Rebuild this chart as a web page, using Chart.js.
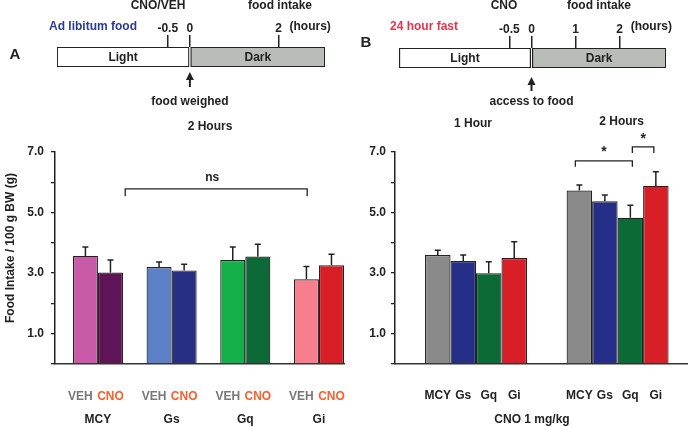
<!DOCTYPE html>
<html lang="en">
<head>
<meta charset="UTF-8">
<title>Food intake after CNO</title>
<script src="https://cdn.jsdelivr.net/npm/chart.js"></script>
<style>
  body { margin: 0; background: #fff; }
  #wrap { position: relative; width: 688px; height: 427px; overflow: hidden; }
  canvas { position: absolute; }
</style>
</head>
<body>
<div id="wrap">
  <canvas id="timeA" width="344" height="112" style="left:0;top:0"></canvas>
  <canvas id="timeB" width="344" height="112" style="left:344px;top:0"></canvas>
  <canvas id="barsB" width="344" height="317" style="left:344px;top:110px"></canvas>
  <canvas id="barsA" width="352" height="317" style="left:0;top:110px"></canvas>
</div>
<script>
// A: ad libitum fed, 2 h intake, VEH vs CNO
const groupsA = ['MCY', 'Gs', 'Gq', 'Gi'];
const vehA = [3.57, 3.20, 3.43, 2.80];
const vehErrA = [0.29, 0.17, 0.43, 0.42];
const cnoA = [3.02, 3.09, 3.55, 3.26];
const cnoErrA = [0.41, 0.20, 0.40, 0.36];

// B: 24 h fast, CNO 1 mg/kg, 1 h and 2 h intake
const timesB = ['1 Hour', '2 Hours'];
const strainsB = ['MCY', 'Gs', 'Gq', 'Gi'];
const mcyB = [3.60, 5.73];
const mcyErrB = [0.16, 0.18];
const gsB = [3.40, 5.37];
const gsErrB = [0.20, 0.21];
const gqB = [3.00, 4.83];
const gqErrB = [0.38, 0.41];
const giB = [3.50, 5.88];
const giErrB = [0.54, 0.47];

// y ticks
const yTicks = [1, 3, 5, 7];

// timelines (hours)
const ticksTimeA = [-0.5, 0, 2];
const ticksTimeB = [-0.5, 0, 1, 2];
const lightSpan = [-3, 0];
const darkSpan = [0, 3.05];

Chart.defaults.font.family = '"Liberation Sans", Arial, Helvetica, sans-serif';
Chart.defaults.font.weight = 'bold';
Chart.defaults.font.size = 12;
Chart.defaults.color = '#222';

const INK = '#222';
const BOLD = 'bold 12px "Liberation Sans", Arial, sans-serif';

function text(ctx, str, x, y, color, align, font) {
  ctx.fillStyle = color || INK;
  ctx.font = font || BOLD;
  ctx.textAlign = align || 'center';
  ctx.textBaseline = 'middle';
  ctx.fillText(str, x, y);
}

function arrowUp(ctx, x, tip, bottom) {
  ctx.strokeStyle = INK;
  ctx.fillStyle = INK;
  ctx.lineWidth = 2;
  ctx.beginPath();
  ctx.moveTo(x, bottom);
  ctx.lineTo(x, tip + 6);
  ctx.stroke();
  ctx.beginPath();
  ctx.moveTo(x, tip);
  ctx.lineTo(x - 4, tip + 8);
  ctx.lineTo(x + 4, tip + 8);
  ctx.closePath();
  ctx.fill();
}

function timeline(id, ticks, min, max, pad, notes) {
  return new Chart(document.getElementById(id), {
    type: 'bar',
    data: {
      labels: ['day'],
      datasets: [
        { label: 'Light', data: [lightSpan], backgroundColor: '#ffffff' },
        { label: 'Dark', data: [darkSpan], backgroundColor: '#b9bdb8' }
      ]
    },
    options: {
      indexAxis: 'y',
      responsive: false,
      animation: false,
      layout: { padding: pad },
      plugins: { legend: { display: false }, tooltip: { enabled: false } },
      datasets: {
        bar: { grouped: false, barPercentage: 1, categoryPercentage: 1,
               borderColor: INK, borderWidth: 1.3, borderSkipped: false }
      },
      scales: {
        x: {
          type: 'linear', position: 'top', min: min, max: max,
          afterBuildTicks: s => { s.ticks = ticks.map(v => ({ value: v })); },
          afterFit: s => { s.height = pad.axis; },
          border: { display: false },
          grid: { drawOnChartArea: false, drawTicks: true, tickLength: 12, color: INK, lineWidth: 1.5 },
          ticks: { padding: -1, maxRotation: 0, autoSkip: false, color: INK, callback: v => String(v) }
        },
        y: { display: false }
      }
    },
    plugins: [{
      id: 'timeNotes',
      afterDraw(chart) {
        const ctx = chart.ctx;
        const x = chart.scales.x;
        ctx.save();
        chart.data.datasets.forEach((ds, i) => {
          const bar = chart.getDatasetMeta(i).data[0];
          text(ctx, ds.label, (bar.x + bar.base) / 2, bar.y + 1);
        });
        const x2 = x.getPixelForValue(2);
        text(ctx, '(hours)', x2 + 11, 27, INK, 'left');
        notes(ctx, x);
        ctx.restore();
      }
    }]
  });
}

timeline('timeA', ticksTimeA, -3.0, 3.05, { left: 57, right: 19, top: 0, bottom: 45, axis: 47 }, (ctx, x) => {
  text(ctx, 'A', 15, 55, INK, 'center', 'bold 15px "Liberation Sans", Arial, sans-serif');
  text(ctx, 'Ad libitum food', 93, 27, '#2c3a90');
  text(ctx, 'CNO/VEH', 158, 6);
  text(ctx, 'food intake', 280, 6);
  const x0 = x.getPixelForValue(0);
  arrowUp(ctx, x0, 72, 87);
  text(ctx, 'food weighed', x0, 102);
});

timeline('timeB', ticksTimeB, -3.05, 3.05, { left: 53, right: 22, top: 0, bottom: 44, axis: 48 }, (ctx, x) => {
  text(ctx, 'B', 22, 43, INK, 'center', 'bold 15px "Liberation Sans", Arial, sans-serif');
  text(ctx, '24 hour fast', 80, 27, '#e0344f');
  text(ctx, 'CNO', 160, 6);
  text(ctx, 'food intake', 255, 6);
  const x0 = x.getPixelForValue(0);
  arrowUp(ctx, x0, 77, 91);
  text(ctx, 'access to food', x0, 102);
});

const errorBars = {
  id: 'errorBars',
  afterDatasetsDraw(chart) {
    const ctx = chart.ctx;
    const y = chart.scales.y;
    ctx.save();
    ctx.strokeStyle = INK;
    ctx.lineWidth = 1.5;
    chart.data.datasets.forEach((ds, di) => {
      chart.getDatasetMeta(di).data.forEach((bar, i) => {
        const top = y.getPixelForValue(ds.data[i].y + ds.err[i]);
        ctx.beginPath();
        ctx.moveTo(bar.x, bar.y);
        ctx.lineTo(bar.x, top);
        ctx.moveTo(bar.x - 3, top);
        ctx.lineTo(bar.x + 3, top);
        ctx.stroke();
      });
    });
    ctx.restore();
  }
};

function bracket(ctx, x1, x2, yTop, yFoot) {
  ctx.strokeStyle = INK;
  ctx.lineWidth = 1.3;
  ctx.beginPath();
  ctx.moveTo(x1, yFoot);
  ctx.lineTo(x1, yTop);
  ctx.lineTo(x2, yTop);
  ctx.lineTo(x2, yFoot);
  ctx.stroke();
}

function yScaleOpts(width, pad) {
  return {
    min: 0, max: 7,
    afterFit: s => { s.width = width; },
    afterBuildTicks: s => {
      const t = [];
      for (let v = 0; v <= 7; v++) t.push({ value: v });
      s.ticks = t;
    },
    ticks: { padding: pad, color: INK, callback: v => yTicks.includes(v) ? v.toFixed(1) : '' },
    grid: { drawOnChartArea: false, drawTicks: true, tickLength: 4, color: INK, lineWidth: 1.3 },
    border: { color: INK, width: 1.5 }
  };
}

// one x tick per group so the bar ruler uses the group spacing
function xScaleOpts(min, max, n) {
  return {
    type: 'linear', min: min, max: max, offset: false,
    afterBuildTicks: s => {
      const t = [];
      for (let v = 1; v <= n; v++) t.push({ value: v });
      s.ticks = t;
    },
    afterFit: s => { s.height = 63; },
    ticks: { display: false },
    grid: { display: false, offset: false },
    border: { display: true, color: '#333', width: 1.5 }
  };
}

const colorsVehA = ['#c95aa8', '#5c80c5', '#16b04a', '#f77e8d'];
const colorsCnoA = ['#5f1457', '#262f84', '#0b6a36', '#d81f28'];

new Chart(document.getElementById('barsA'), {
  type: 'bar',
  data: {
    datasets: [
      { label: 'VEH', data: groupsA.map((g, i) => ({ x: i + 1, y: vehA[i] })), err: vehErrA, backgroundColor: colorsVehA },
      { label: 'CNO', data: groupsA.map((g, i) => ({ x: i + 1, y: cnoA[i] })), err: cnoErrA, backgroundColor: colorsCnoA }
    ]
  },
  options: {
    responsive: false,
    animation: false,
    layout: { padding: { top: 42, right: 8, left: 0, bottom: 0 } },
    plugins: { legend: { display: false }, tooltip: { enabled: false } },
    datasets: { bar: { barPercentage: 1, categoryPercentage: 0.68, borderColor: INK, borderWidth: 1.2 } },
    scales: { x: xScaleOpts(0.417, 4.34, groupsA.length), y: yScaleOpts(55, 7) }
  },
  plugins: [errorBars, {
    id: 'notesA',
    afterDraw(chart) {
      const ctx = chart.ctx;
      const x = chart.scales.x, y = chart.scales.y;
      ctx.save();
      ctx.translate(11, 138);
      ctx.rotate(-Math.PI / 2);
      text(ctx, 'Food Intake / 100 g BW (g)', 0, 0);
      ctx.restore();
      ctx.save();
      text(ctx, '2 Hours', 210, 17);
      const x1 = x.getPixelForValue(1.37), x2 = x.getPixelForValue(3.84);
      bracket(ctx, x1, x2, y.getPixelForValue(5.78), y.getPixelForValue(5.54));
      text(ctx, 'ns', (x1 + x2) / 2 - 4, y.getPixelForValue(6.16));
      const veh = chart.getDatasetMeta(0).data, cno = chart.getDatasetMeta(1).data;
      groupsA.forEach((g, i) => {
        text(ctx, 'VEH', veh[i].x - 5, 287, '#777777');
        text(ctx, 'CNO', cno[i].x, 287, '#f26130');
        text(ctx, g, (veh[i].x + cno[i].x) / 2, 310);
      });
      ctx.restore();
    }
  }]
});

const strainData = [mcyB, gsB, gqB, giB];
const strainErr = [mcyErrB, gsErrB, gqErrB, giErrB];
const colorsB = ['#8a8a8a', '#262f88', '#0b6a36', '#d81f28'];

new Chart(document.getElementById('barsB'), {
  type: 'bar',
  data: {
    datasets: strainsB.map((s, k) => ({
      label: s,
      data: timesB.map((t, i) => ({ x: i + 1, y: strainData[k][i] })),
      err: strainErr[k],
      backgroundColor: colorsB[k]
    }))
  },
  options: {
    responsive: false,
    animation: false,
    layout: { padding: { top: 42, right: 1, left: 0, bottom: 0 } },
    plugins: { legend: { display: false }, tooltip: { enabled: false } },
    datasets: { bar: { barPercentage: 1, categoryPercentage: 0.72, borderColor: INK, borderWidth: 1.2 } },
    scales: { x: xScaleOpts(0.428, 2.49, timesB.length), y: yScaleOpts(51, 5) }
  },
  plugins: [errorBars, {
    id: 'notesB',
    afterDraw(chart) {
      const ctx = chart.ctx;
      const x = chart.scales.x, y = chart.scales.y;
      const bars = strainsB.map((s, k) => chart.getDatasetMeta(k).data);
      ctx.save();
      text(ctx, timesB[0], x.getPixelForValue(1) - 3, 14);
      text(ctx, timesB[1], x.getPixelForValue(2) + 4, 12);
      // MCY vs Gq, Gq vs Gi at 2 h
      const mcy = bars[0][1].x, gq = bars[2][1].x, gi = bars[3][1].x;
      bracket(ctx, mcy - 4, gq + 2, y.getPixelForValue(6.71), y.getPixelForValue(6.51));
      text(ctx, '*', (mcy + gq) / 2 - 1, y.getPixelForValue(6.98), INK, 'center', 'bold 14px "Liberation Sans", Arial, sans-serif');
      bracket(ctx, gq + 2, gi - 2, y.getPixelForValue(7.17), y.getPixelForValue(6.97));
      text(ctx, '*', (gq + gi) / 2, y.getPixelForValue(7.44), INK, 'center', 'bold 14px "Liberation Sans", Arial, sans-serif');
      timesB.forEach((t, i) => {
        strainsB.forEach((s, k) => text(ctx, s, bars[k][i].x, 286));
      });
      text(ctx, 'CNO 1 mg/kg', 188, 310);
      ctx.restore();
    }
  }]
});
</script>
</body>
</html>
